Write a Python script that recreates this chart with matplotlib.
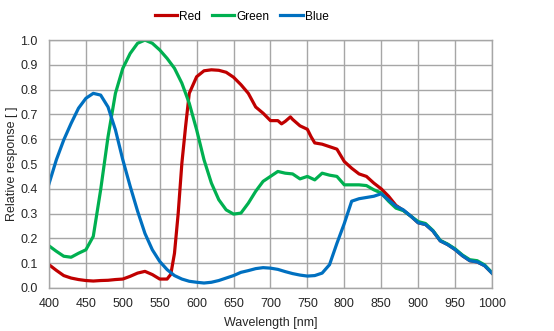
import numpy as np
import matplotlib.pyplot as plt

plt.rcParams['font.family'] = ['Liberation Sans', 'DejaVu Sans']

# 光谱响应数据（波长 nm）
wl = list(range(400, 1001, 10))

blue = [0.42, 0.517, 0.597, 0.664, 0.725, 0.765, 0.785, 0.778, 0.73, 0.638,
        0.517, 0.41, 0.31, 0.22, 0.154, 0.107, 0.074, 0.05, 0.036, 0.027,
        0.023, 0.02, 0.023, 0.03, 0.04, 0.05, 0.063, 0.07, 0.078, 0.082,
        0.08, 0.075, 0.066, 0.058, 0.052, 0.048, 0.05, 0.06, 0.094, 0.18,
        0.26, 0.35, 0.36, 0.365, 0.37, 0.38, 0.355, 0.33, 0.315, 0.29,
        0.263, 0.256, 0.23, 0.19, 0.175, 0.155, 0.13, 0.11, 0.105, 0.09,
        0.06]

green = [0.17, 0.148, 0.128, 0.124, 0.14, 0.154, 0.208, 0.396, 0.61, 0.785,
         0.886, 0.946, 0.987, 1.0, 0.987, 0.96, 0.926, 0.886, 0.826, 0.745,
         0.638, 0.517, 0.423, 0.356, 0.315, 0.298, 0.302, 0.342, 0.39, 0.43,
         0.45, 0.47, 0.463, 0.46, 0.44, 0.45, 0.436, 0.463, 0.455, 0.45,
         0.416, 0.416, 0.416, 0.413, 0.396, 0.383, 0.35, 0.322, 0.312, 0.29,
         0.268, 0.26, 0.232, 0.192, 0.177, 0.158, 0.133, 0.114, 0.11, 0.093,
         0.062]

wl_red = [400, 410, 420, 430, 440, 450, 460, 470, 480, 490, 500, 510, 520,
          530, 540, 550, 560, 565, 570, 575, 580, 585, 590, 600, 610, 620,
          630, 640, 650, 660, 670, 680, 690, 700, 710, 715, 720, 727, 730,
          740, 750, 755, 760, 770, 780, 790, 800, 810, 820, 830, 840, 850,
          860, 870, 880, 890, 900, 910, 920, 930, 940, 950, 960, 970, 980,
          990, 1000]
red = [0.094, 0.071, 0.05, 0.04, 0.034, 0.03, 0.028, 0.03, 0.031, 0.034,
       0.036, 0.047, 0.06, 0.067, 0.054, 0.036, 0.036, 0.055, 0.14, 0.3,
       0.503, 0.65, 0.785, 0.852, 0.876, 0.88, 0.878, 0.87, 0.85, 0.82,
       0.785, 0.73, 0.705, 0.675, 0.675, 0.662, 0.672, 0.69, 0.68, 0.654,
       0.64, 0.61, 0.585, 0.58, 0.57, 0.56, 0.51, 0.483, 0.46, 0.45,
       0.423, 0.4, 0.37, 0.333, 0.313, 0.29, 0.263, 0.256, 0.23, 0.19,
       0.175, 0.155, 0.13, 0.11, 0.105, 0.09, 0.06]

fig = plt.figure(figsize=(5.54, 3.31), dpi=100)
ax = fig.add_axes([0.0884, 0.13, 0.7996, 0.749])

lw = 2.3
ax.plot(wl_red, red, color='#C00000', lw=lw, label='Red', solid_joinstyle='round')
ax.plot(wl, green, color='#00B050', lw=lw, label='Green', solid_joinstyle='round')
ax.plot(wl, blue, color='#0070C0', lw=lw, label='Blue', solid_joinstyle='round')

ax.set_xlim(400, 1000)
ax.set_ylim(0, 1.0)
ax.set_xticks(np.arange(400, 1001, 50))
ax.set_yticks(np.arange(0, 1.01, 0.1))
ax.set_yticklabels(['%.1f' % v for v in np.arange(0, 1.01, 0.1)])
ax.tick_params(length=0, labelsize=9, colors='#262626')
ax.tick_params(axis='y', pad=8)
ax.tick_params(axis='x', pad=7)
ax.grid(True, color='#A6A6A6', lw=1.0)
ax.set_axisbelow(True)
for s in ax.spines.values():
    s.set_color('#A6A6A6')
    s.set_linewidth(1.0)

ax.set_xlabel('Wavelength [nm]', fontsize=9, color='#262626', labelpad=5)
ax.set_ylabel('Relative response [ ]', fontsize=9, color='#262626', labelpad=2)

# 图例放在顶部
fig.legend(loc='center', bbox_to_anchor=(0.436, 0.95), ncol=3, frameon=False,
           fontsize=8.6, handlelength=1.9, handletextpad=0.15, columnspacing=0.9)

fig.savefig('out.png', dpi=100)
